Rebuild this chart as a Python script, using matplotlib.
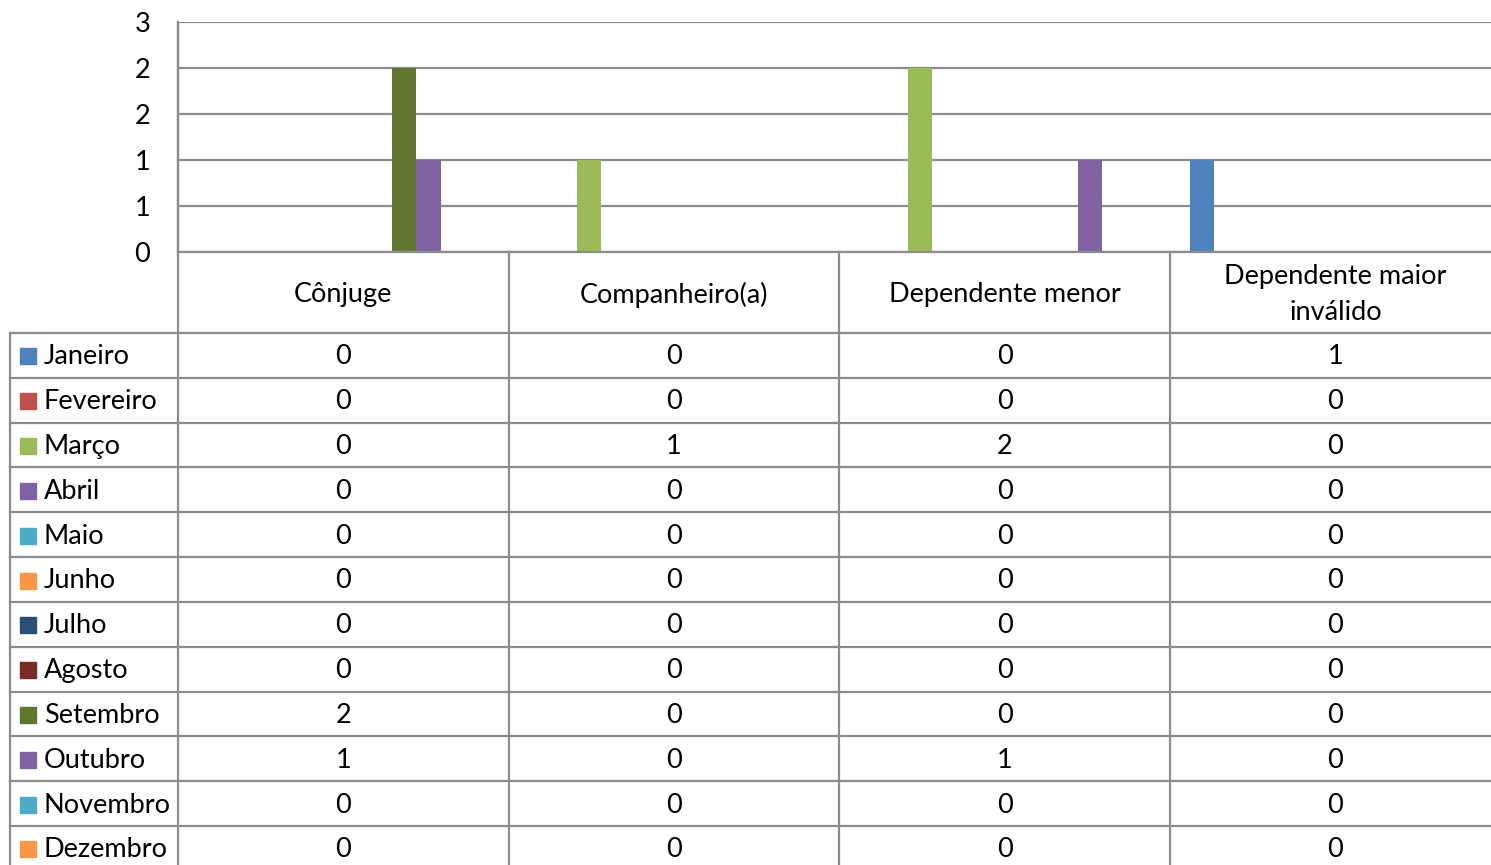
import matplotlib.pyplot as plt
import numpy as np

# ---------------- data ----------------
categorias = ["Cônjuge", "Companheiro(a)", "Dependente menor", "Dependente maior\ninválido"]
meses = ["Janeiro", "Fevereiro", "Março", "Abril", "Maio", "Junho",
         "Julho", "Agosto", "Setembro", "Outubro", "Novembro", "Dezembro"]
valores = [
    [0, 0, 0, 1],   # Janeiro
    [0, 0, 0, 0],   # Fevereiro
    [0, 1, 2, 0],   # Março
    [0, 0, 0, 0],   # Abril
    [0, 0, 0, 0],   # Maio
    [0, 0, 0, 0],   # Junho
    [0, 0, 0, 0],   # Julho
    [0, 0, 0, 0],   # Agosto
    [2, 0, 0, 0],   # Setembro
    [1, 0, 1, 0],   # Outubro
    [0, 0, 0, 0],   # Novembro
    [0, 0, 0, 0],   # Dezembro
]
cores = ["#4F81BD", "#C0504D", "#9BBB59", "#8064A2", "#4BACC6", "#F79646",
         "#2C4D75", "#772C2A", "#5F7530", "#8064A2", "#4BACC6", "#F79646"]
y_ticks = [0, 0.5, 1, 1.5, 2, 2.5]
y_labels = ["0", "1", "1", "2", "2", "3"]

# ---------------- layout (pixels) ----------------
W, H = 1491, 865
FONT = "Lato"
FS = 19.5
GRID = "#8C8C8C"
plot_left, plot_top, plot_bottom = 178, 22, 252
col_w = 330.7
head_bottom = 333
row_h = (826 - 333) / 11
tab_left = 10

plt.rcParams['font.family'] = [FONT, 'DejaVu Sans']

fig = plt.figure(figsize=(W / 100, H / 100), dpi=100)

# chart axes (extends a bit past the right edge, like the original)
ax = fig.add_axes([plot_left / W, 1 - plot_bottom / H,
                   4 * col_w / W, (plot_bottom - plot_top) / H])
n = len(meses)
bw = 24.3 / col_w
x = np.arange(len(categorias))
vals = np.array(valores)
for j in range(n):
    ax.bar(x + (j - (n - 1) / 2) * bw, vals[j], width=bw, color=cores[j],
           zorder=3, linewidth=0)
ax.set_xlim(-0.5, len(categorias) - 0.5)
ax.set_ylim(0, 2.5)
ax.set_yticks(y_ticks)
ax.set_yticklabels(y_labels, fontsize=FS)
ax.set_xticks([])
ax.tick_params(axis='y', length=0, pad=20)
ax.grid(axis='y', color=GRID, linewidth=1.6, zorder=1)
for s in ['top', 'right', 'bottom']:
    ax.spines[s].set_visible(False)
ax.spines['left'].set_color(GRID)
ax.spines['left'].set_linewidth(1.6)

# data table drawn in pixel coordinates
tab = fig.add_axes([0, 0, 1, 1], zorder=5)
tab.set_xlim(0, W)
tab.set_ylim(H, 0)
tab.axis('off')

edges = [plot_left + k * col_w for k in range(len(categorias) + 1)]
lw = 1.6
# horizontal lines
tab.plot([plot_left, W], [plot_bottom, plot_bottom], color=GRID, lw=lw)
for k in range(n + 2):
    yy = head_bottom + k * row_h
    tab.plot([tab_left, W], [yy, yy], color=GRID, lw=lw)
# vertical lines
tab.plot([tab_left, tab_left], [head_bottom, H], color=GRID, lw=lw)
tab.plot([plot_left, plot_left], [plot_top, H], color=GRID, lw=lw)
for e in edges[1:]:
    tab.plot([e, e], [plot_bottom, H], color=GRID, lw=lw)

# header
for i, c in enumerate(categorias):
    cx = (edges[i] + edges[i + 1]) / 2
    tab.text(cx, (plot_bottom + head_bottom) / 2 + 2, c, ha='center', va='center',
             fontsize=FS, linespacing=1.55)

# rows
for j, m in enumerate(meses):
    cy = head_bottom + (j + 0.5) * row_h
    tab.add_patch(plt.Rectangle((20, cy - 7), 16, 16, color=cores[j]))
    tab.text(44, cy + 1.5, m, ha='left', va='center', fontsize=FS)
    for i in range(len(categorias)):
        cx = (edges[i] + edges[i + 1]) / 2
        tab.text(cx, cy + 1.5, str(valores[j][i]), ha='center', va='center', fontsize=FS)

fig.savefig("out.png", dpi=100)
